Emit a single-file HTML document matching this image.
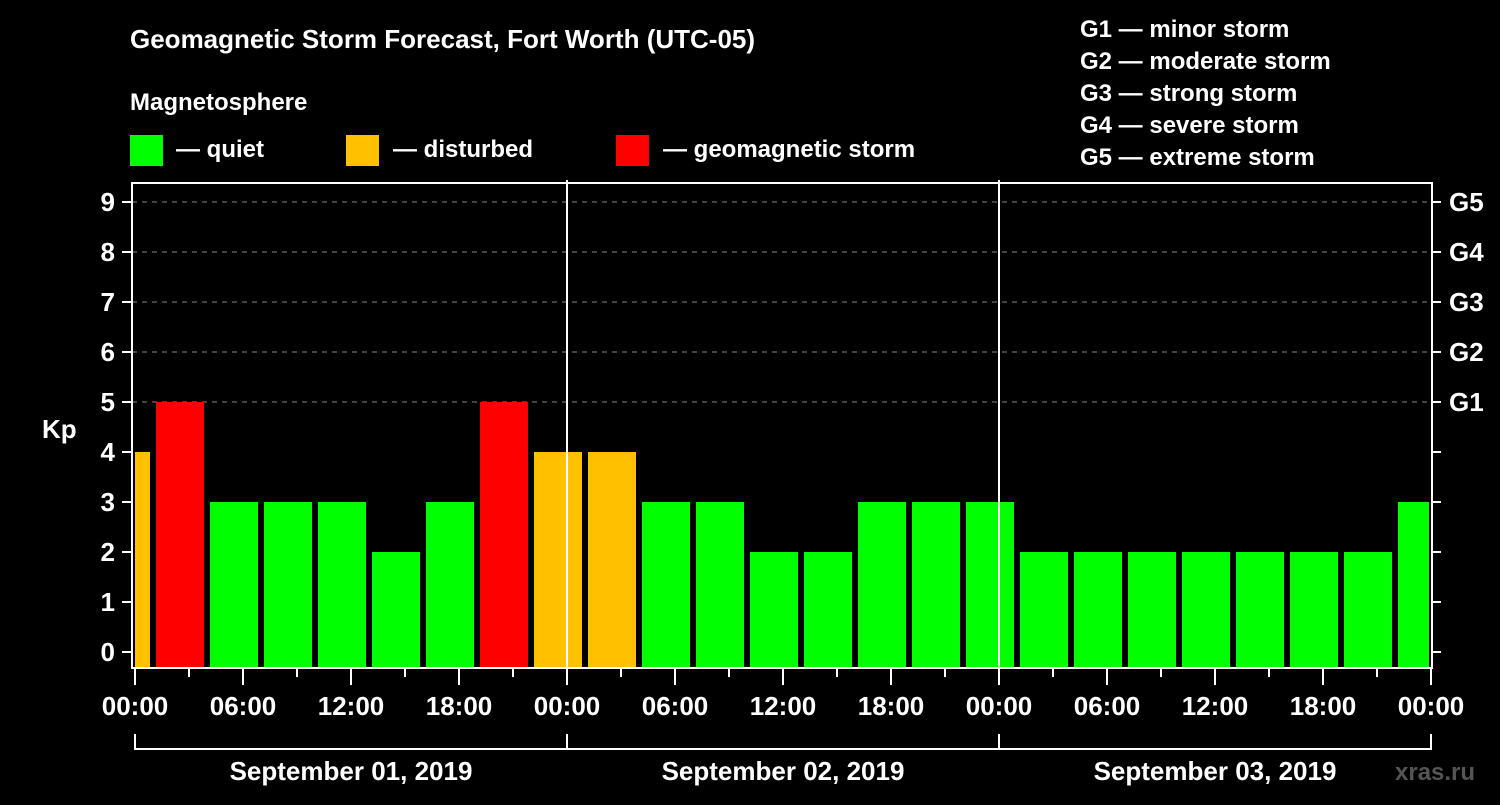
<!DOCTYPE html>
<html><head><meta charset="utf-8"><style>
body{margin:0;background:#000;}
svg text{font-family:"Liberation Sans",sans-serif;font-weight:bold;fill:#fff;}
</style></head><body>
<svg id="chart" width="1500" height="800" viewBox="0 0 1500 800">
<text x="130" y="48" font-size="26">Geomagnetic Storm Forecast, Fort Worth (UTC-05)</text>
<text x="130" y="110" font-size="24">Magnetosphere</text>
<g>
<rect x="130" y="135" width="33" height="31" fill="#00ff00"/>
<text x="176" y="157" font-size="24">— quiet</text>
<rect x="346" y="135" width="33" height="31" fill="#ffc000"/>
<text x="393" y="157" font-size="24">— disturbed</text>
<rect x="616" y="135" width="33" height="31" fill="#ff0000"/>
<text x="663" y="157" font-size="24">— geomagnetic storm</text>
</g>
<g font-size="24">
<text x="1080" y="37">G1 — minor storm</text>
<text x="1080" y="69">G2 — moderate storm</text>
<text x="1080" y="101">G3 — strong storm</text>
<text x="1080" y="133">G4 — severe storm</text>
<text x="1080" y="165">G5 — extreme storm</text>
</g>
<text x="42" y="438" font-size="26">Kp</text>
<text x="1395" y="780" font-size="24" style="fill:#555">xras.ru</text>
<g id="grid"></g><g id="bars"></g><g id="axes"></g>
</svg>
<script>
const kpValues=[4,5,3,3,3,2,3,5,4,4,3,3,2,2,3,3,3,2,2,2,2,2,2,2,3];
const slotStartHours=[-2,1,4,7,10,13,16,19,22,25,28,31,34,37,40,43,46,49,52,55,58,61,64,67,70];
const yTicks=[0,1,2,3,4,5,6,7,8,9];
const gLabels=["G1","G2","G3","G4","G5"];
const gLevels=[5,6,7,8,9];
const xTickLabels=["00:00","06:00","12:00","18:00","00:00","06:00","12:00","18:00","00:00","06:00","12:00","18:00","00:00"];
const dateLabels=["September 01, 2019","September 02, 2019","September 03, 2019"];
const NS="http://www.w3.org/2000/svg";
const L=132,R=1432,T=183,B=668,X0=135,PXH=18;
const x=h=>X0+h*PXH;
const y=v=>652-v*50;
function mk(tag,attrs,parent,txt){const e=document.createElementNS(NS,tag);for(const k in attrs)e.setAttribute(k,attrs[k]);if(txt!==undefined)e.textContent=txt;parent.appendChild(e);return e;}
const grid=document.getElementById('grid'),bars=document.getElementById('bars'),axes=document.getElementById('axes');
gLevels.forEach(v=>{const l=mk('line',{x1:L,x2:R,y1:y(v),y2:y(v),stroke:'#888','stroke-dasharray':'5,5','stroke-width':1},grid);

});
const color=v=>v>=5?'#ff0000':(v>=4?'#ffc000':'#00ff00');
kpValues.forEach((v,i)=>{let x1=x(slotStartHours[i])+3,x2=x(slotStartHours[i]+3)-3;
x1=Math.max(x1,L+3);x2=Math.min(x2,R-3);
const r=mk('rect',{x:x1,y:y(v),width:x2-x1,height:B-y(v),fill:color(v)},bars);

});
[1,2].forEach(d=>{mk('line',{x1:x(24*d),x2:x(24*d),y1:T-3,y2:B,stroke:'#fff','stroke-width':2},axes);});
const fr=mk('rect',{x:L,y:T,width:R-L,height:B-T,fill:'none',stroke:'#fff','stroke-width':2},axes);


yTicks.forEach(v=>{mk('line',{x1:122,x2:L,y1:y(v),y2:y(v),stroke:'#fff','stroke-width':2},axes);
mk('line',{x1:R,x2:1441,y1:y(v),y2:y(v),stroke:'#fff','stroke-width':2},axes);
const t=mk('text',{x:115,y:y(v)+9,'font-size':26,'text-anchor':'end'},axes,String(v));

});
gLabels.forEach((g,i)=>{const t=mk('text',{x:1449,y:y(gLevels[i])+9,'font-size':26},axes,g);

});
for(let h=0;h<=72;h+=3){const long=h%6===0;mk('line',{x1:x(h),x2:x(h),y1:B,y2:long?685:677,stroke:'#fff','stroke-width':2},axes);}
xTickLabels.forEach((s,i)=>{const t=mk('text',{x:x(i*6),y:715,'font-size':26,'text-anchor':'middle'},axes,s);

});
mk('line',{x1:x(0),x2:x(72),y1:749,y2:749,stroke:'#fff','stroke-width':2},axes);
[0,24,48,72].forEach(h=>mk('line',{x1:x(h),x2:x(h),y1:734,y2:750,stroke:'#fff','stroke-width':2},axes));
dateLabels.forEach((s,i)=>{const t=mk('text',{x:x(24*i+12),y:780,'font-size':26,'text-anchor':'middle'},axes,s);

});
</script>
</body></html>
